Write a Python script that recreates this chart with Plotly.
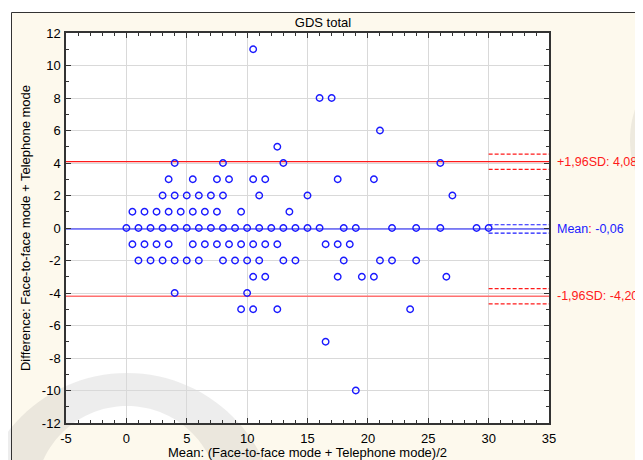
import math
import plotly.graph_objects as go

# ---------------- data ----------------
mean_vals = (
    [10.5] + [16, 17] + [21] + [12.5] + [4, 8, 13, 26]
    + [3.5, 5.5, 7.5, 8.5, 10.5, 11.5, 17.5, 20.5]
    + [3, 4, 5, 6, 7, 8, 11, 15, 27]
    + [0.5, 1.5, 2.5, 3.5, 4.5, 5.5, 6.5, 7.5, 9.5, 13.5]
    + [0, 1, 2, 3, 4, 5, 6, 7, 8, 9, 10, 11, 12, 13, 14, 15, 16, 18, 19, 22, 24, 26, 29, 30]
    + [0.5, 1.5, 2.5, 3.5, 5.5, 6.5, 7.5, 8.5, 9.5, 10.5, 11.5, 12.5, 16.5, 17.5, 18.5]
    + [1, 2, 3, 4, 5, 6, 8, 9, 10, 11, 13, 14, 18, 21, 22, 24]
    + [10.5, 11.5, 17.5, 19.5, 20.5, 26.5]
    + [4, 10]
    + [9.5, 10.5, 12.5, 23.5]
    + [16.5]
    + [19]
)
diff_vals = (
    [11] * 1 + [8] * 2 + [6] * 1 + [5] * 1 + [4] * 4
    + [3] * 8
    + [2] * 9
    + [1] * 10
    + [0] * 24
    + [-1] * 15
    + [-2] * 16
    + [-3] * 6
    + [-4] * 2
    + [-5] * 4
    + [-7] * 1
    + [-10] * 1
)

mean_diff = -0.06
mean_ci = [-0.32, 0.20]
upper_loa = 4.08
upper_ci = [3.61, 4.55]
lower_loa = -4.20
lower_ci = [-4.67, -3.73]

x_range = [-5, 35]
y_range = [-12, 12]
ci_x = [30, 35]

x_tickvals = [-5, 0, 5, 10, 15, 20, 25, 30, 35]
x_ticktext = ["-5", "0", "5", "10", "15", "20", "25", "30", "35"]
y_tickvals = [-12, -10, -8, -6, -4, -2, 0, 2, 4, 6, 8, 10, 12]
y_ticktext = ["-12", "-10", "-8", "-6", "-4", "-2", "0", "2", "4", "6", "8", "10", "12"]

label_upper = "+1,96SD: 4,08"
label_mean = "Mean<span style='color:#ff0000'>:</span> -0,06"
label_lower = "-1,96SD: -4,20"

# ---------------- geometry ----------------
# the page has an 8px body margin, so the figure covers page pixels 8..643 / 8..460
OFF = 8
W, H = 643 - OFF, 460 - OFF
# plot area in page pixels: x 66..549, y 33..423
ML, MR, MT, MB = 66 - OFF, 643 - 549, 33 - OFF, 460 - 423
PW, PH = W - ML - MR, H - MT - MB


def px2paper(px, py):
    """page pixel -> paper coords"""
    return (px - OFF - ML) / PW, (H - MB - (py - OFF)) / PH


BLUE = "#1a1aff"
RED = "#ff1a1a"
FONT = "Liberation Sans, Arial, sans-serif"
FS = 13

fig = go.Figure()

# limits of agreement (full width solid lines)
fig.add_trace(go.Scatter(x=x_range, y=[upper_loa, upper_loa], mode="lines",
                         line=dict(color=RED, width=1.2), hoverinfo="skip"))
fig.add_trace(go.Scatter(x=x_range, y=[mean_diff, mean_diff], mode="lines",
                         line=dict(color=BLUE, width=1.2), hoverinfo="skip"))
fig.add_trace(go.Scatter(x=x_range, y=[lower_loa, lower_loa], mode="lines",
                         line=dict(color="#ff7070", width=1.6), hoverinfo="skip"))

# confidence intervals (dashed, right end)
for ci, col in ((upper_ci, RED), (mean_ci, BLUE), (lower_ci, RED)):
    for v in ci:
        fig.add_trace(go.Scatter(x=ci_x, y=[v, v], mode="lines",
                                 line=dict(color=col, width=1.2, dash="4px,2px"),
                                 hoverinfo="skip"))

# points
fig.add_trace(go.Scatter(x=mean_vals, y=diff_vals, mode="markers",
                         marker=dict(symbol="circle-open", size=6.5,
                                     color=BLUE, line=dict(color=BLUE, width=1.4))))

# ---------------- decoration shapes (background, frame, watermark) ----------------
shapes = []
# white outer strips (left and top)
x0, y0 = px2paper(OFF, OFF)
x1, y1 = px2paper(11, 460)
shapes.append(dict(type="rect", xref="paper", yref="paper", x0=x0, y0=y1, x1=x1, y1=y0,
                   fillcolor="white", line=dict(width=0), layer="below"))
x1b, y1b = px2paper(643, 12)
shapes.append(dict(type="rect", xref="paper", yref="paper", x0=x0, y0=y1b, x1=x1b, y1=y0,
                   fillcolor="white", line=dict(width=0), layer="below"))


def circle_pts(cx, cy, r, n=120):
    pts = []
    for i in range(n):
        a = 2 * math.pi * i / n
        pts.append(px2paper(cx + r * math.cos(a), cy + r * math.sin(a)))
    return "M " + " L ".join(f"{p[0]:.4f},{p[1]:.4f}" for p in pts) + " Z"


crescent = circle_pts(127, 523, 150) + " " + circle_pts(127, 498, 92)
shapes.append(dict(type="path", xref="paper", yref="paper", path=crescent,
                   fillcolor="rgba(110,110,110,0.12)", line=dict(width=0),
                   fillrule="evenodd", layer="below"))
shapes.append(dict(type="path", xref="paper", yref="paper", path=circle_pts(726, 140, 96),
                   fillcolor="rgba(110,110,110,0.10)", line=dict(width=0), layer="below"))

# frame lines
fx, fy0 = px2paper(11.5, 12.5)
_, fy1 = px2paper(11.5, 460)
shapes.append(dict(type="line", xref="paper", yref="paper", x0=fx, y0=fy0, x1=fx, y1=fy1,
                   line=dict(color="#333333", width=1), layer="below"))
fx1, _ = px2paper(643, 12.5)
shapes.append(dict(type="line", xref="paper", yref="paper", x0=fx, y0=fy0, x1=fx1, y1=fy0,
                   line=dict(color="#333333", width=1), layer="below"))

# ---------------- annotations ----------------
ax_x, _ = px2paper(555.5, 0)
AFS = 12.5
annotations = [
    dict(x=ax_x, y=upper_loa, xref="paper", yref="y", text=label_upper, showarrow=False,
         xanchor="left", yanchor="middle", borderpad=0,
         font=dict(color=RED, size=AFS, family=FONT)),
    dict(x=ax_x, y=mean_diff, xref="paper", yref="y", text=label_mean, showarrow=False,
         xanchor="left", yanchor="middle", borderpad=0,
         font=dict(color=BLUE, size=AFS, family=FONT)),
    dict(x=ax_x, y=lower_loa, xref="paper", yref="y", text=label_lower, showarrow=False,
         xanchor="left", yanchor="middle", borderpad=0,
         font=dict(color=RED, size=AFS, family=FONT)),
]

axis_common = dict(
    showgrid=True, gridcolor="#d9d9d9", gridwidth=1,
    showline=True, linecolor="#333333", linewidth=1.5, mirror="ticks",
    ticks="inside", ticklen=5, tickcolor="#333333", tickwidth=1,
    zeroline=False, tickfont=dict(size=FS, color="black", family=FONT),
    tickmode="array", automargin=False,
)

title_x = (323 - OFF) / W
title_y = 1 - (22 - OFF) / H

fig.update_layout(
    width=W, height=H, autosize=False,
    margin=dict(l=ML, r=MR, t=MT, b=MB, autoexpand=False),
    paper_bgcolor="#fdf9ed", plot_bgcolor="white",
    showlegend=False,
    font=dict(family=FONT, size=FS, color="black"),
    title=dict(text="GDS total", x=title_x, xref="container", xanchor="center",
               y=title_y, yref="container", yanchor="middle", automargin=False,
               font=dict(size=FS, color="black", family=FONT)),
    xaxis=dict(range=x_range, tickvals=x_tickvals, ticktext=x_ticktext,
               ticklabelstandoff=3,
               minor=dict(dtick=1, tick0=0, ticks="inside", ticklen=3, tickcolor="#333333",
                          showgrid=False),
               title=dict(text="Mean: (Face-to-face mode + Telephone mode)/2",
                          font=dict(size=FS, color="black", family=FONT), standoff=6),
               **axis_common),
    yaxis=dict(range=y_range, tickvals=y_tickvals, ticktext=y_ticktext,
               ticklabelstandoff=1,
               minor=dict(dtick=1, tick0=0, ticks="inside", ticklen=3, tickcolor="#333333",
                          showgrid=False),
               title=dict(text="Difference: Face-to-face mode + Telephone mode",
                          font=dict(size=FS, color="black", family=FONT), standoff=8),
               **axis_common),
    shapes=shapes,
    annotations=annotations,
)

fig.write_html("out.html")
